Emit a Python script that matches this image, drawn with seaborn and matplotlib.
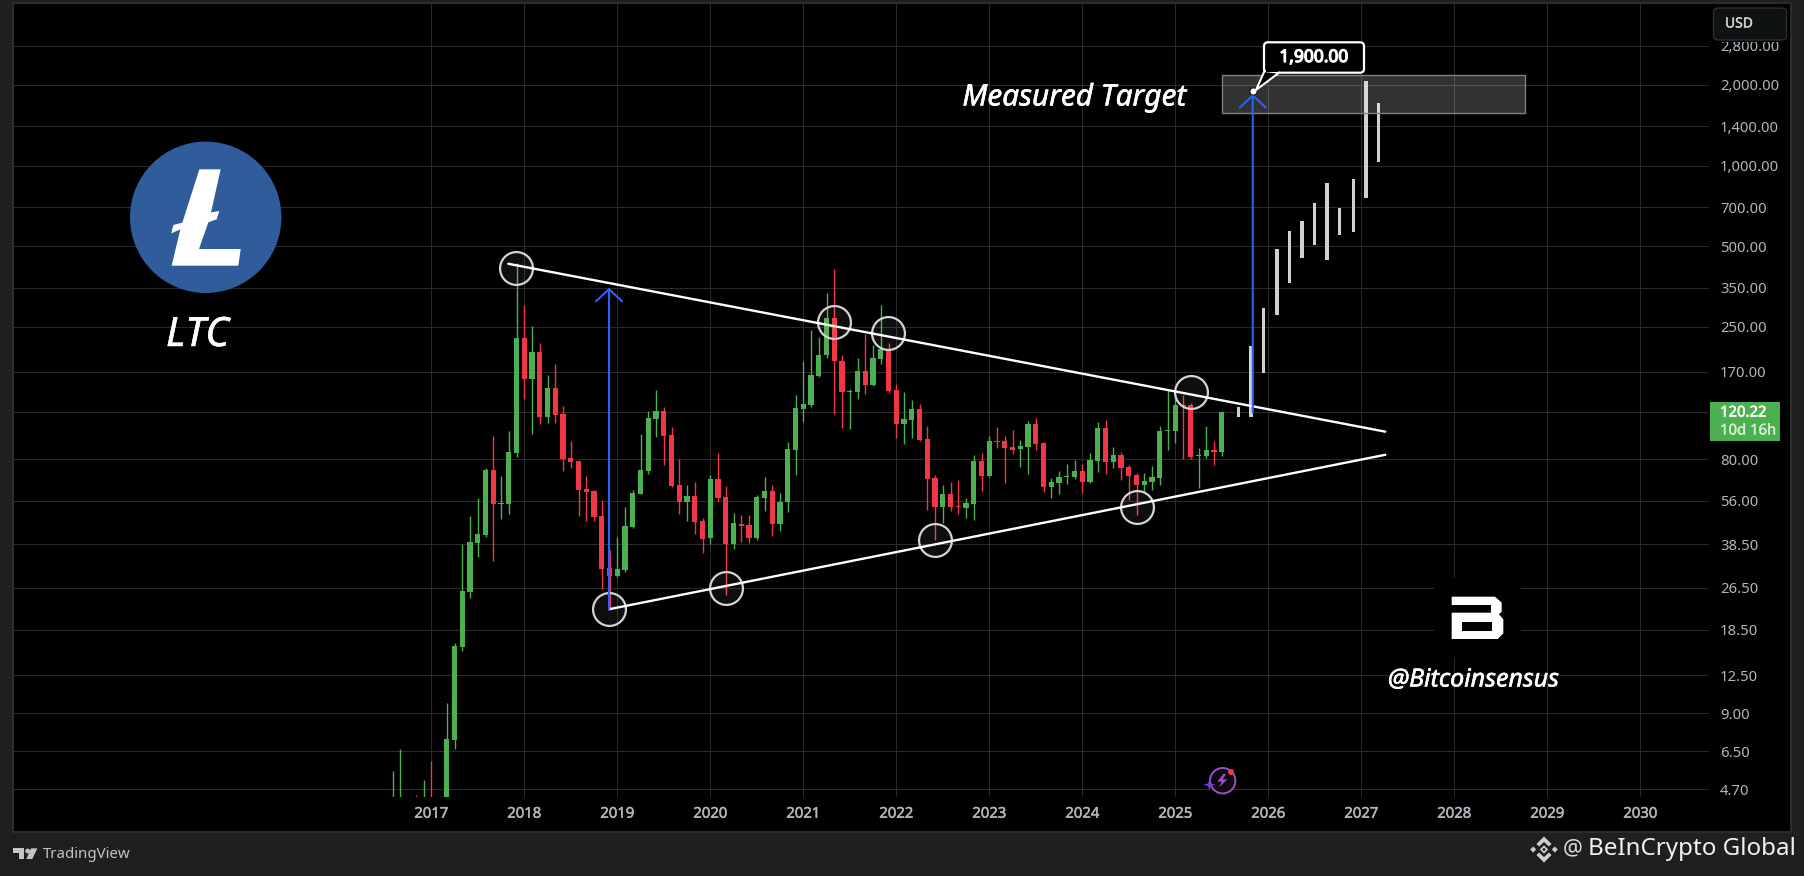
import numpy as np
import pandas as pd
import seaborn as sns
import matplotlib
matplotlib.use("Agg")
import matplotlib.pyplot as plt
import matplotlib.patheffects as pe
from matplotlib.patches import Rectangle, Polygon, Circle, FancyBboxPatch
from matplotlib.ticker import NullLocator

# ---------------- data ----------------
opens = [3.7,3.75,3.8,3.7,3.6,
 4.3,4.0,3.9,7.15,15.96,25.6,38.9,41.7,73,54.7,54.7,84.4,
 227,160,201,115,148,118,81,78.6,61.8,60.8,49.2,31.4,
 29.3,30.9,44.7,59.3,72.3,113,121,98.4,64.2,55.4,58.4,47.1,
 40.6,67.4,57.8,38.7,46,45.5,40.6,57.4,60.8,46,55.3,87,
 123.6,127.5,164,195.5,269,187,143,143,171,151.6,190,206.5,
 145,108,112,123,95.3,68.2,53.1,59.4,53.6,52.7,54.5,78.9,
 69.3,93.7,93.7,89,87.4,89,108,92,63,65.3,68.7,68.7,
 72.4,65.8,78.9,105,78.2,83,74.9,69.9,64.1,65.8,68.2,102,
 102,127.6,127.6,82.5,82.5,86.7,85.2]
highs = [5.48,6.65,4.2,4.47,5.09,
 5.97,4.3,9.81,16.5,38.6,49.3,57.4,74,97.5,69.3,102.4,433,
 301,252,218,165,182,127,93.7,78.6,69.3,61.5,56.3,36.7,
 40.9,53,61.7,99.5,121,145,126,106,80.3,64.2,65.9,48.2,
 69.7,84.4,63.6,50.6,49.5,49.5,58.7,68.6,64.2,60.1,93.1,139,
 186,244,229,334,411,196,146.5,192,236,214,301,217,
 152.5,143,133,129,107,69.9,64.1,65.8,67,57.4,83,84.5,
 97.8,105.6,97.8,103,94.5,111,114,92.9,68.2,72.4,76.9,79.5,
 76.9,84.5,110,112,89,85.2,76.2,70.9,71,75.6,107,146.5,
 141,139,130,88.2,107,93.6,121.3]
lows = [3.5,3.5,3.5,3.4,3.4,
 3.6,3.6,3.7,6.63,15.4,24.3,34.6,41.2,33.5,48.1,50,81.9,
 134,99.5,108,109,109,72.3,74.2,49.2,47.1,47.1,26.2,22,
 29.1,30.4,44.4,59.3,70.4,96.8,76.2,63,50,47.1,42.1,35.7,
 38.7,55.9,24.9,36.9,39.2,39,40,51.3,41.3,43.3,50.8,70.1,
 110.5,126,163,192,118,105,104,134,140,150,182,141,
 96,91.3,96,93.6,51.7,40,46.3,51.3,50,48.3,47.5,60.9,
 68.9,88.2,65.3,83.8,74.9,70.5,86.7,60.4,57.4,59.4,64.7,67.6,
 59.9,65.3,71.7,70.5,74.2,67,56.4,49.6,60.4,61.5,64.1,86.7,
 92,80.2,80.2,62.5,81,76.2,82.5]
closes = [3.75,3.8,3.7,3.6,4.3,
 4.0,4.1,7.22,16.07,25.8,39.3,42.1,73,54.7,55,85.2,227,
 160,201,115,148,117,80.3,78.2,61.5,60.3,48.7,31.1,29.3,
 31.1,45.2,59.9,73,114,121,97.8,63.6,55.4,58.4,46.7,40.5,
 67.4,57.2,38.7,46.2,45.2,40.6,57.8,60.8,46,55.4,87.4,124,
 128.5,165,196,269,187,143,143.5,171,152,191,206,144,
 108,113,123,94.1,67.6,53.1,59.4,53.1,53.1,55,78.9,69.3,
 93.7,92.9,88.2,86.7,89.8,108,91.3,63,65.8,68.7,69.3,72.4,
 65.8,79.5,105,78.2,83,74.2,69.3,64.1,66.4,68.7,102,103,
 127.6,126.6,81.6,83,86.7,85.2,120.22]
first_month = "2016-08-01"

proj_years = [2025.680,2025.816,2025.949,2026.094,2026.227,2026.362,
              2026.496,2026.631,2026.765,2026.914,2027.050,2027.184]
proj_high = [125,212,294,488,569,621,724,860,694,891,2069,1707]
proj_low = [114.8,115.4,167.5,277,365,453,506,445,552,566,758,1034]

upper_years = [2017.828,2027.258]
upper_price = [430,101.5]
lower_years = [2018.911,2027.258]
lower_price = [22.05,83.2]

circle_years = [2017.914,2018.915,2020.172,2021.333,2021.914,2022.419,2024.591,2025.172]
circle_price = [416,22.05,26.4,260,238,39.9,52.9,142.3]

arrow1_year, arrow1_from, arrow1_to = 2018.911, 22.05, 350
arrow2_year, arrow2_from, arrow2_to = 2025.833, 119.5, 1851
target_price = 1900
zone_years = [2025.498,2028.757]
zone_price = [1566,2184]

price_ticks = [2800,2000,1400,1000,700,500,350,250,170,120,80,56,38.5,26.5,18.5,12.5,9,6.5,4.7]
price_labels = ["2,800.00","2,000.00","1,400.00","1,000.00","700.00","500.00","350.00","250.00",
                "170.00","120.00","80.00","56.00","38.50","26.50","18.50","12.50","9.00","6.50","4.70"]
year_ticks = list(range(2017,2031))

# ---------------- style ----------------
W, H = 1804, 876
GREEN, RED, BLUE = "#4CAF50", "#F23645", "#2962FF"
GRID, TXT = "#2a2a2a", "#b2b5be"
sns.set_theme(style="dark", rc={"axes.facecolor":"none","figure.facecolor":"#1f1f1f"})
plt.rcParams["font.family"] = ["Noto Sans","DejaVu Sans"]

def heavy(t,w,color):
    t.set_path_effects([pe.withStroke(linewidth=w,foreground=color)])
    return t

fig = plt.figure(figsize=(W/100,H/100),dpi=100)
def px_axes(z):
    a = fig.add_axes([0,0,1,1],zorder=z)
    a.set_xlim(0,W); a.set_ylim(H,0); a.axis("off")
    return a
bg = px_axes(-1)
bg.add_patch(Rectangle((13,3),1778,829,fc="black",ec="#2c2c2c",lw=1.5))

L,R,T,B = 13,1709,3,797
ax = fig.add_axes([L/W,1-B/H,(R-L)/W,(B-T)/H],zorder=1)
ax.set_yscale("log")
ax.set_xlim(2017+(L-431.3)/93,2017+(R-431.3)/93)
ax.set_ylim(2000*np.exp(-(B-85)/116.3),2000*np.exp(-(T-85)/116.3))

# candles
df = pd.DataFrame({"open":opens,"high":highs,"low":lows,"close":closes})
dates = pd.date_range(first_month,periods=len(df),freq="MS")
df["x"] = dates.year+(dates.month-1)/12
df["col"] = np.where(df.close>=df.open,GREEN,RED)
ax.vlines(df.x,df.low,df.high,colors=df.col,lw=1.0,zorder=3)
top = df[["open","close"]].max(axis=1); bot = df[["open","close"]].min(axis=1)
ax.bar(df.x,top-bot,bottom=bot,width=5.2/93,color=df.col,linewidth=0,zorder=3)

# projected bars
wide = [1,3,7,10]
for i,(x,h,l) in enumerate(zip(proj_years,proj_high,proj_low)):
    w = 3.9 if i in wide else (3.2 if i in (4,5) else 2.8)
    ax.bar(x,h-l,bottom=l,width=w/93,color="#d0d0d0",linewidth=0,zorder=3)

# target zone
ax.add_patch(Rectangle((zone_years[0],zone_price[0]),zone_years[1]-zone_years[0],zone_price[1]-zone_price[0],
                       fc=(1,1,1,0.2),ec="#808080",lw=1,zorder=4))

# circles
sns.scatterplot(x=circle_years,y=circle_price,ax=ax,s=560,marker="o",
                facecolor=(1,1,1,0.06),edgecolor="#d4d4d4",linewidth=1.6,zorder=5)

# trend lines
for xs,ys in ((upper_years,upper_price),(lower_years,lower_price)):
    sns.lineplot(x=xs,y=ys,ax=ax,color="white",linewidth=1.7,estimator=None,sort=False,zorder=6,legend=False)

# arrows
for xx,a,b in ((arrow1_year,arrow1_from,arrow1_to),(arrow2_year,arrow2_from,arrow2_to)):
    ax.annotate("",xy=(xx,b),xytext=(xx,a),zorder=6,
                arrowprops=dict(arrowstyle="->,head_length=8.8,head_width=9.4",mutation_scale=1,
                                color=BLUE,lw=1.5,shrinkA=0,shrinkB=0))
ax.scatter([arrow2_year],[target_price],s=26,c="white",edgecolors="black",linewidths=0.6,zorder=8)

# axes
ax.set_yticks(price_ticks,price_labels,color=TXT,fontsize=10.7)
ax.set_xticks(year_ticks,[str(y) for y in year_ticks],color=TXT,fontsize=10.7)
for t in ax.get_yticklabels()+ax.get_xticklabels():
    heavy(t,0.35,TXT)
ax.yaxis.set_minor_locator(NullLocator())
ax.yaxis.tick_right()
ax.tick_params(axis="y",length=0,pad=7.9)
ax.tick_params(axis="x",length=0,pad=7)
ax.grid(True,color=GRID,lw=0.75)
ax.set_axisbelow(True)
for s in ax.spines.values(): s.set_visible(False)
ax.set_xlabel(""); ax.set_ylabel("")

# ---------------- overlay ----------------
ov = px_axes(5)
ov.add_patch(Rectangle((1711,4),78,38,fc="black",ec="none"))
ov.add_patch(FancyBboxPatch((1716,10.5),68,27,boxstyle="round,pad=2.5,rounding_size=5",fc="#0f1212",ec="#2c3030",lw=1))
heavy(ov.text(1725,24,"USD",color="#cfcfcf",fontsize=10,va="center",ha="left"),0.3,"#cfcfcf")

# price tag
ov.add_patch(Rectangle((1710,402.3),70,38.4,fc=GREEN,ec="none"))
heavy(ov.text(1720,413,"120.22",color="white",fontsize=10.7,va="center",ha="left"),0.4,"white")
heavy(ov.text(1720,431,"10d 16h",color="#d5ecd6",fontsize=10.7,va="center",ha="left"),0.3,"#d5ecd6")

# value bubble
ov.add_patch(FancyBboxPatch((1267,45.3),94,24.4,boxstyle="round,pad=3,rounding_size=4",fc="black",ec="white",lw=1.6))
ov.add_patch(Polygon([(1264.5,71),(1279,72.7),(1256,90)],closed=True,fc="black",ec="white",lw=1.5))
ov.add_patch(Rectangle((1266,69),12,3,fc="black",ec="none"))
heavy(ov.text(1314,57,"1,900.00",color="white",fontsize=12.5,va="center",ha="center"),0.9,"white")

heavy(ov.text(1074.5,98,"Measured Target",color="white",fontsize=21.4,style="italic",va="center",ha="center"),0.4,"white")

# LTC logo
ov.add_patch(Circle((205.7,217.3),75.7,fc="#305C9B",ec="none"))
lp = [(268,133),(332,133),(303,262),(328,258),(320,283),(295,292),(267,372),(392,372),(385,422),(185,422),
      (211,313),(184,325),(190,300),(217,293)]
ov.add_patch(Polygon([(110+a/3,125+b/3) for a,b in lp],closed=True,fc="white",ec="none"))
heavy(ov.text(197.5,336,"LTC",color="white",fontsize=29,style="italic",va="center",ha="center"),0.4,"white")

# B logo
ov.add_patch(Rectangle((1434,578),87,79,fc="black",ec="none"))
bp = [(65,50),(195,50),(215,68),(215,95),(207,103),(220,118),(220,160),(203,177),(65,177),(65,98),(183,98),(183,75),(65,75)]
ov.add_patch(Polygon([(1430+a/3,580+b/3) for a,b in bp],closed=True,fc="white",ec="none"))
hp = [(97,125),(187,125),(187,152),(97,152)]
ov.add_patch(Polygon([(1430+a/3,580+b/3) for a,b in hp],closed=True,fc="black",ec="none"))
heavy(ov.text(1473.5,680,"@Bitcoinsensus",color="white",fontsize=18,style="italic",va="center",ha="center"),0.4,"white")

# purple icon
ov.add_patch(Circle((1222.7,780.7),12.7,fc="#0b0b10",ec="#9c4dd0",lw=1.4))
bolt = [(100,72),(82,95),(95,95),(88,112),(112,88),(98,88),(108,72)]
ov.add_patch(Polygon([(1190+a/3,750+b/3) for a,b in bolt],closed=True,fc="#9c4dd0",ec="none"))
star = [(58,88),(62,100),(76,104),(62,108),(58,122),(54,108),(40,104),(54,100)]
ov.add_patch(Polygon([(1190+a/3,750+b/3) for a,b in star],closed=True,fc="#6a3fe0",ec="none"))
ov.add_patch(Circle((1231,772),3,fc=RED,ec="none"))

# TradingView footer
tv = "#c4c4c4"
ov.add_patch(Polygon([(5+a/3,835+b/3) for a,b in [(24,40),(58,40),(58,72),(42,72),(42,55),(24,55)]],closed=True,fc=tv,ec="none"))
ov.add_patch(Circle((5+68/3,835+48/3),2.4,fc=tv,ec="none"))
ov.add_patch(Polygon([(5+a/3,835+b/3) for a,b in [(78,40),(97,40),(82,72),(64,72)]],closed=True,fc=tv,ec="none"))
ov.text(43,855,"TradingView",color=tv,fontsize=10.8,va="center",ha="left")

# Binance mark and credit
bc = "#cfcfcf"
def dia(cx,cy,r,fc=bc):
    ov.add_patch(Polygon([(cx,cy-r),(cx+r,cy),(cx,cy+r),(cx-r,cy)],closed=True,fc=fc,ec="none"))
cx,cy = 1544,849.5
dia(cx-10.8,cy,3); dia(cx+10.8,cy,3); dia(cx,cy,4.2); dia(cx,cy,1.8,"#1f1f1f")
ov.add_patch(Polygon([(cx,cy-13),(cx+7.5,cy-5.5),(cx+4.8,cy-3),(cx,cy-7.6),(cx-4.8,cy-3),(cx-7.5,cy-5.5)],closed=True,fc=bc,ec="none"))
ov.add_patch(Polygon([(cx,cy+13),(cx+7.5,cy+5.5),(cx+4.8,cy+3),(cx,cy+7.6),(cx-4.8,cy+3),(cx-7.5,cy+5.5)],closed=True,fc=bc,ec="none"))
ov.text(1573,849,"@",color="#d8d8d8",fontsize=16,va="center",ha="center")
ov.text(1588,849,"BeInCrypto Global",color="#f0f0f0",fontsize=17.4,va="center",ha="left")

fig.savefig("out.png",dpi=100,facecolor=fig.get_facecolor())
